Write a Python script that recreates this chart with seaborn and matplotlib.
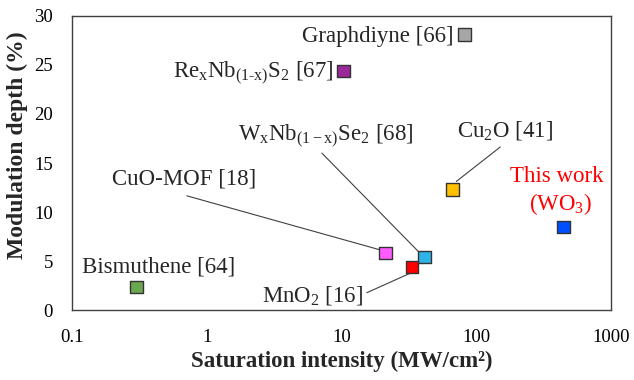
import matplotlib
matplotlib.use("Agg")
import matplotlib.pyplot as plt
import seaborn as sns
import pandas as pd
from matplotlib.ticker import MultipleLocator, FixedLocator, FixedFormatter, LogLocator, NullFormatter

materials = ["Graphdiyne", "ReNbS2", "WNbSe2", "CuO-MOF", "MnO2", "Cu2O", "This work", "Bismuthene"]
sat_intensity = [81, 10.3, 41, 21, 33, 66, 440, 0.30]
mod_depth = [28.1, 24.4, 5.45, 5.85, 4.45, 12.3, 8.5, 2.4]
colors = ["#a6a6a6", "#9a2a9a", "#2fb4ea", "#ff5cff", "#ff0000", "#ffc000", "#0050ff", "#6aa84f"]
xticks = [0.1, 1, 10, 100, 1000]
xtick_labels = ["0.1", "1", "10", "100", "1000"]

df = pd.DataFrame({"material": materials, "x": sat_intensity, "y": mod_depth})

sns.set_style("white")
plt.rcParams["font.family"] = ["Liberation Serif", "DejaVu Serif"]
plt.rcParams["mathtext.fontset"] = "custom"
plt.rcParams["mathtext.rm"] = "Liberation Serif"
plt.rcParams["mathtext.it"] = "Liberation Serif"
plt.rcParams["mathtext.bf"] = "Liberation Serif:bold"

fig = plt.figure(figsize=(6.34, 3.80), dpi=100)
ax = fig.add_axes([0.1140, 0.1829, 0.9645 - 0.1140, 0.9587 - 0.1829])

sns.scatterplot(data=df, x="x", y="y", hue="material", palette=dict(zip(materials, colors)),
                marker="s", s=80, edgecolor="#333333", linewidth=1.0, legend=False, ax=ax, zorder=3)

ax.set_xscale("log")
ax.set_xlim(0.1, 1000)
ax.set_ylim(0, 30)
ax.xaxis.set_major_locator(FixedLocator(xticks))
ax.xaxis.set_major_formatter(FixedFormatter(xtick_labels))
ax.xaxis.set_minor_locator(LogLocator(base=10, subs=range(2, 10), numticks=20))
ax.xaxis.set_minor_formatter(NullFormatter())
ax.yaxis.set_major_locator(MultipleLocator(5))
ax.yaxis.set_minor_locator(MultipleLocator(1))

for s in ax.spines.values():
    s.set_color("#404040")
    s.set_linewidth(1.0)
ax.tick_params(axis="both", which="both", direction="out", colors="#404040", labelcolor="black",
               labelsize=13.5, width=1.0)
ax.tick_params(axis="both", which="major", length=5)
ax.tick_params(axis="both", which="minor", length=4)
ax.tick_params(axis="x", which="major", pad=8)
ax.tick_params(axis="y", which="major", pad=9)

ax.set_xlabel("Saturation intensity (MW/cm\u00b2)", fontsize=16.5, fontweight="bold", labelpad=4)
ax.set_ylabel("Modulation depth (%)", fontsize=17, fontweight="bold")
ax.yaxis.set_label_coords(-0.082, 0.561)

fs = 16.5
ax.text(67, 27.3, "Graphdiyne [66]", fontsize=fs, ha="right", va="baseline")
ax.text(8.6, 23.6, "Re$_\\mathrm{x}$Nb$_\\mathrm{(1\\text{-}x)}$S$_\\mathrm{2}$ [67]", fontsize=fs, ha="right", va="baseline")
ax.text(1.70, 17.2, "W$_\\mathrm{x}$Nb$_\\mathrm{(1\u2212x)}$Se$_\\mathrm{2}$ [68]", fontsize=fs, ha="left", va="baseline")
ax.text(0.196, 12.8, "CuO-MOF [18]", fontsize=fs, ha="left", va="baseline")
ax.text(0.118, 3.85, "Bismuthene [64]", fontsize=fs, ha="left", va="baseline")
ax.text(2.55, 0.9, "MnO$_\\mathrm{2}$ [16]", fontsize=fs, ha="left", va="baseline")
ax.text(71.4, 17.7, "Cu$_\\mathrm{2}$O [41]", fontsize=fs, ha="left", va="baseline")
ax.text(396, 13.1, "This work", fontsize=fs, ha="center", va="baseline", color="red")
ax.text(417, 10.25, "(WO$_\\mathrm{3}$)", fontsize=fs, ha="center", va="baseline", color="red")

leaders = [((0.708, 11.67), (19.2, 6.17)),
           ((7.10, 16.02), (37.0, 5.99)),
           ((15.3, 1.81), (32.1, 3.79)),
           ((149.6, 16.64), (70.6, 13.13))]
for (x0, y0), (x1, y1) in leaders:
    ax.plot([x0, x1], [y0, y1], color="#404040", linewidth=0.8, zorder=2)

fig.savefig("out.png", dpi=100)
